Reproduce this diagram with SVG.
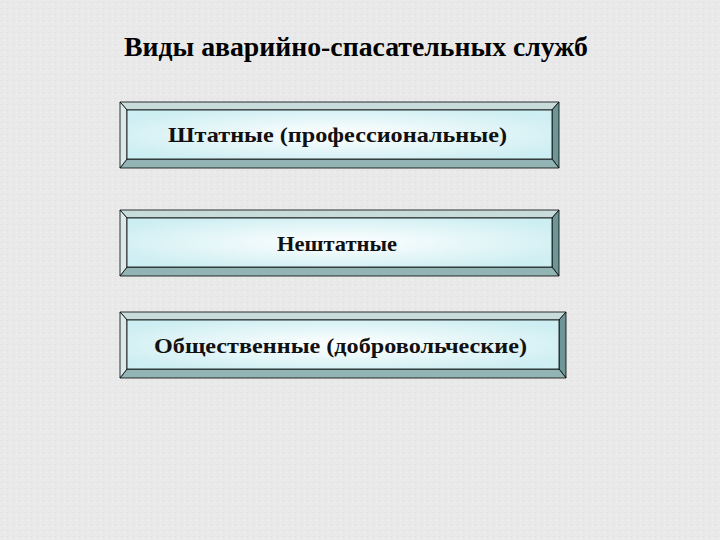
<svg xmlns="http://www.w3.org/2000/svg" width="720" height="540" viewBox="0 0 720 540">
<defs>
<radialGradient id="fill" cx="50%" cy="50%" r="60%">
<stop offset="0" stop-color="#ffffff"/>
<stop offset="1" stop-color="#cdeef2"/>
</radialGradient>
<pattern id="tex" width="6" height="6" patternUnits="userSpaceOnUse">
<rect width="6" height="6" fill="#e9e9e9"/>
<rect x="1" y="2" width="1" height="1" fill="#dcdcdc"/>
<rect x="4" y="4" width="1" height="1" fill="#f4f4f4"/>
</pattern>
<style>
.t{fill:#c9dcdc;stroke:#000;stroke-width:0.8}
.l{fill:#dbe9e9;stroke:#000;stroke-width:0.8}
.r{fill:#6e9696;stroke:#000;stroke-width:0.8}
.b{fill:#93b4b4;stroke:#000;stroke-width:0.8}
.f{fill:url(#fill);stroke:#000;stroke-width:0.8}
.lbl{font-family:"Liberation Serif","Times New Roman",serif;font-size:22px;font-weight:bold;fill:#111;text-anchor:middle}
.title{font-family:"Liberation Serif","Times New Roman",serif;font-size:27px;font-weight:bold;fill:#000;text-anchor:middle}
</style>
</defs>
<rect width="720" height="540" fill="url(#tex)"/>
<text class="title" x="356" y="56" textLength="464" lengthAdjust="spacingAndGlyphs">Виды аварийно-спасательных служб</text>
<g id="node1">
<polygon class="t" points="120,102 559,102 552,110 127,110"/>
<polygon class="r" points="559,102 559,168 552,159 552,110"/>
<polygon class="b" points="120,168 559,168 552,159 127,159"/>
<polygon class="l" points="120,102 127,110 127,159 120,168"/>
<rect class="f" x="127" y="110" width="425" height="49"/>
<text class="lbl" x="337.5" y="142" textLength="339" lengthAdjust="spacingAndGlyphs">Штатные (профессиональные)</text>
</g>
<g id="node2">
<polygon class="t" points="120,210 559,210 552,218 127,218"/>
<polygon class="r" points="559,210 559,276 552,267 552,218"/>
<polygon class="b" points="120,276 559,276 552,267 127,267"/>
<polygon class="l" points="120,210 127,218 127,267 120,276"/>
<rect class="f" x="127" y="218" width="425" height="49"/>
<text class="lbl" x="337" y="251" textLength="120" lengthAdjust="spacingAndGlyphs">Нештатные</text>
</g>
<g id="node3">
<polygon class="t" points="120,312 566,312 559,320 127,320"/>
<polygon class="r" points="566,312 566,378 559,369 559,320"/>
<polygon class="b" points="120,378 566,378 559,369 127,369"/>
<polygon class="l" points="120,312 127,320 127,369 120,378"/>
<rect class="f" x="127" y="320" width="432" height="49"/>
<text class="lbl" x="340.5" y="353" textLength="373" lengthAdjust="spacingAndGlyphs">Общественные (добровольческие)</text>
</g>
<g id="connectors"/>
</svg>
